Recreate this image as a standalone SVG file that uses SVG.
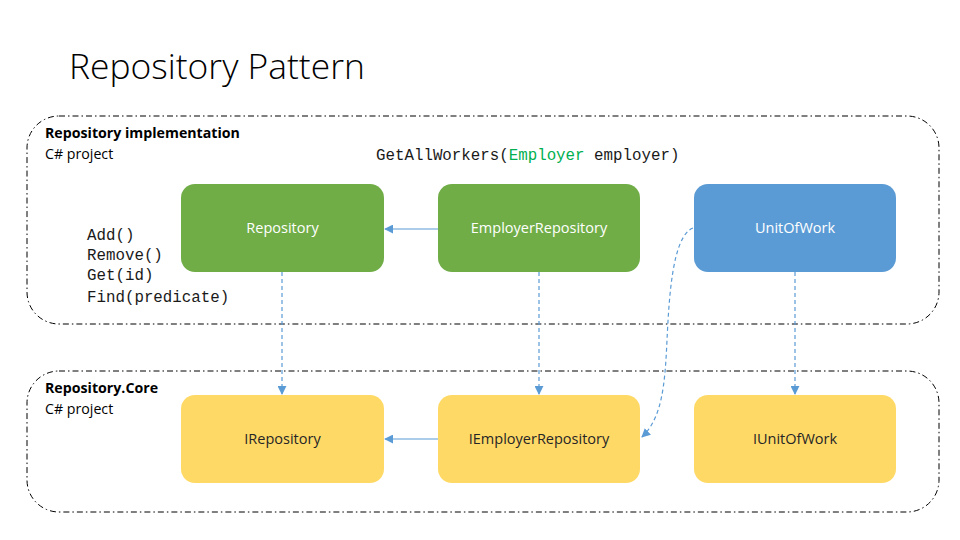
<svg xmlns="http://www.w3.org/2000/svg" width="960" height="540" viewBox="0 0 960 540">
<defs>
<style>
.frame{fill:none;stroke:#000;stroke-width:1;stroke-dasharray:6 3 1.5 3}
.g{fill:#70AD47}.b{fill:#5B9BD5}.y{fill:#FFD966}
.lbl{font-family:"Open Sans","Liberation Sans",sans-serif;font-size:14.5px;text-anchor:middle}
.w{fill:#fff}.d{fill:#262626}
.hd{font-family:"Open Sans","Liberation Sans",sans-serif;font-size:14.2px;fill:#000}
.code{font-family:"Liberation Mono","DejaVu Sans Mono",monospace;font-size:15.8px;fill:#1a1a1a}
.ln{fill:none;stroke:#5B9BD5;stroke-width:1.2}
.dash{stroke-dasharray:4 3}
</style>
<marker id="ah" viewBox="0 0 10 10" refX="9" refY="5" markerWidth="9" markerHeight="9" markerUnits="userSpaceOnUse" orient="auto">
<path d="M0,0 L10,5 L0,10 z" fill="#5B9BD5"/>
</marker>
</defs>
<rect width="960" height="540" fill="#fff"/>
<text x="69" y="79" font-family="'Open Sans','Liberation Sans',sans-serif" font-weight="300" font-size="35.4" fill="#000">Repository Pattern</text>

<g id="impl-frame">
<rect class="frame" x="27" y="116" width="912" height="208" rx="32"/>
<text class="hd" x="45" y="138" font-weight="bold">Repository implementation</text>
<text class="hd" x="45" y="159">C# project</text>
<text class="code" x="376" y="160">GetAllWorkers(<tspan fill="#00B050">Employer</tspan> employer)</text>
<text class="code" x="87" y="240">Add()</text>
<text class="code" x="87" y="260">Remove()</text>
<text class="code" x="87" y="280">Get(id)</text>
<text class="code" x="87" y="302">Find(predicate)</text>
</g>
<g id="core-frame">
<rect class="frame" x="27" y="371" width="912" height="141" rx="32"/>
<text class="hd" x="45" y="393" font-weight="bold">Repository.Core</text>
<text class="hd" x="45" y="414">C# project</text>
</g>

<g id="connectors">
<line class="ln" x1="438" y1="229" x2="385" y2="229" marker-end="url(#ah)"/>
<line class="ln" x1="438" y1="439" x2="385" y2="439" marker-end="url(#ah)"/>
<line class="ln dash" x1="282" y1="272" x2="282" y2="394" marker-end="url(#ah)"/>
<line class="ln dash" x1="539" y1="272" x2="539" y2="394" marker-end="url(#ah)" stroke="#7F9CC0"/>
<line class="ln dash" x1="795" y1="272" x2="795" y2="394" marker-end="url(#ah)"/>
<path class="ln dash" d="M693,228 C672,236 669,300 667,340 C665,385 662,418 642,437" marker-end="url(#ah)"/>
</g>

<g id="Repository"><rect class="g" x="181" y="184" width="203" height="88" rx="14"/><text class="lbl w" x="282.5" y="233">Repository</text></g>
<g id="EmployerRepository"><rect class="g" x="438" y="184" width="202" height="88" rx="14"/><text class="lbl w" x="539" y="233">EmployerRepository</text></g>
<g id="UnitOfWork"><rect class="b" x="694" y="184" width="202" height="88" rx="14"/><text class="lbl w" x="795" y="233">UnitOfWork</text></g>
<g id="IRepository"><rect class="y" x="181" y="395" width="203" height="88" rx="14"/><text class="lbl d" x="282.5" y="444">IRepository</text></g>
<g id="IEmployerRepository"><rect class="y" x="438" y="395" width="202" height="88" rx="14"/><text class="lbl d" x="539" y="444">IEmployerRepository</text></g>
<g id="IUnitOfWork"><rect class="y" x="694" y="395" width="202" height="88" rx="14"/><text class="lbl d" x="795" y="444">IUnitOfWork</text></g>
</svg>
